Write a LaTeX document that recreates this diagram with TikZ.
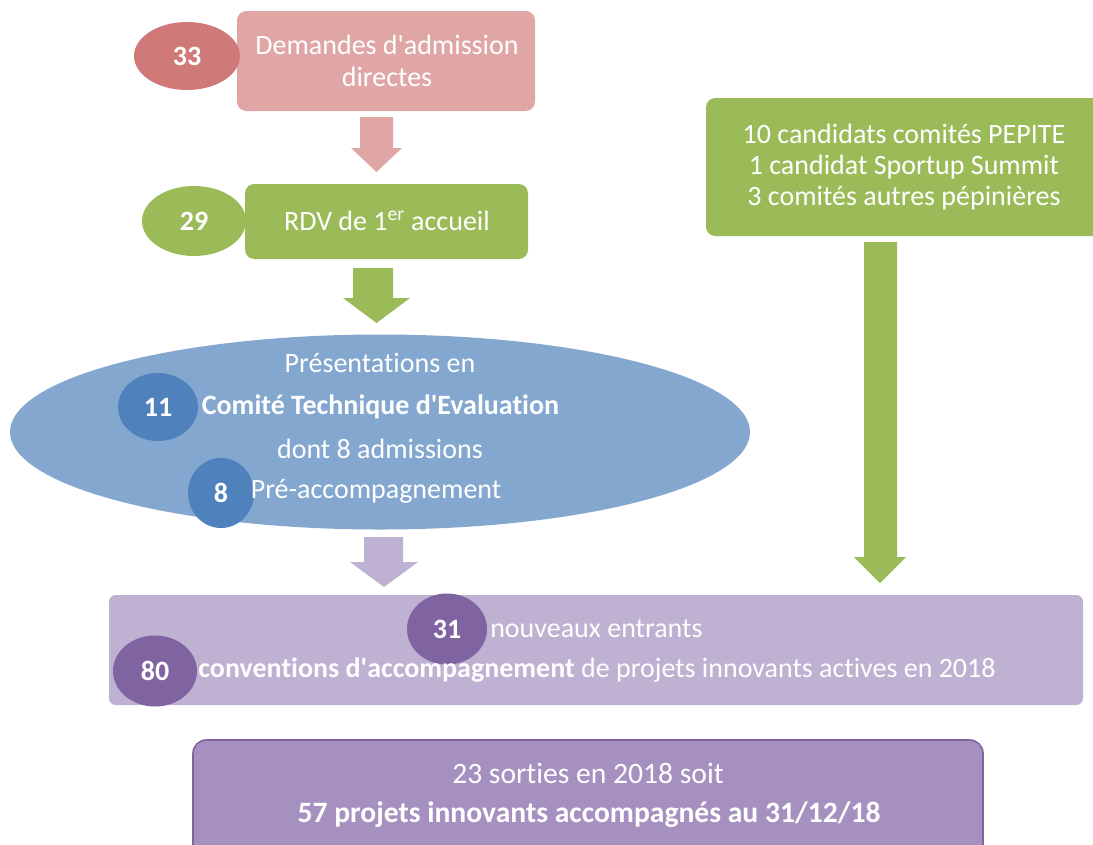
\documentclass[tikz,border=0pt]{standalone}
\usepackage{fontspec}
\setmainfont{Carlito}[RawFeature={-liga;-clig;-dlig}]
\usetikzlibrary{shapes.geometric,fit}
\definecolor{pinkL}{HTML}{E0A6A6}
\definecolor{pinkD}{HTML}{CF7A78}
\definecolor{greenM}{HTML}{9BBB59}
\definecolor{blueL}{HTML}{84A7CF}
\definecolor{blueD}{HTML}{4F81BD}
\definecolor{purpL}{HTML}{BFB1D1}
\definecolor{purpM}{HTML}{A590C0}
\definecolor{purpD}{HTML}{8064A2}
\begin{document}
\begin{tikzpicture}[x=0.75pt,y=-0.75pt,
  every node/.style={text=white, font=\fontsize{21}{23.6}\selectfont},
  rbox/.style={inner sep=0pt, rounded corners=7pt, align=center},
  oval/.style={ellipse, inner sep=0pt, font=\fontsize{21}{23.6}\selectfont\bfseries},
  bigtxt/.style={font=\fontsize{22.2}{25}\selectfont}
]
\useasboundingbox (0,0) rectangle (1093,844);
\clip (0,0) rectangle (1093,844);

% --- Demandes ---
\node[rbox, fill=pinkL, fit={(237,11) (535,111)}] (dem) {};
\node[align=center] (demt) at (387,61) {Demandes d\textquotesingle admission\\directes};
\node[oval, fill=pinkD, minimum width=106*0.75pt, minimum height=68*0.75pt] (n33) at (187,56) {33};
\fill[pinkL] (360,117) -- (393,117) -- (393,148) -- (402,148) -- (376.5,172) -- (351,148) -- (360,148) -- cycle;

% --- RDV ---
\node[rbox, fill=greenM, fit={(245,184) (528,259)}] (rdv) {};
\node (rdvt) at (387,221) {RDV de 1\textsuperscript{er} accueil};
\node[oval, fill=greenM, minimum width=104*0.75pt, minimum height=70*0.75pt] (n29) at (194,221) {29};
\fill[greenM] (353,268) -- (393,268) -- (393,298) -- (410,298) -- (376.5,323) -- (343,298) -- (353,298) -- cycle;

% --- Comite ---
\node[ellipse, fill=blueL, minimum width=740*0.75pt, minimum height=195*0.75pt] (cte) at (380,432) {};
\node (l1) at (380,363) {Présentations en};
\node[font=\fontsize{21}{23.6}\selectfont\bfseries] (l2) at (380.5,407) {Comité Technique d\textquotesingle Evaluation};
\node (l3) at (380,449) {dont 8 admissions};
\node[oval, fill=blueD, minimum width=80*0.75pt, minimum height=68*0.75pt] (n11) at (158,407) {11};
\node[oval, fill=blueD, minimum width=66*0.75pt, minimum height=70*0.75pt] (n8) at (221,493) {8};
\node (l4) at (376,491) {Pré-accompagnement};
\fill[purpL] (364,537) -- (403,537) -- (403,562) -- (418,562) -- (384,587) -- (350,562) -- (364,562) -- cycle;

% --- right green box ---
\node[rbox, fill=greenM, fit={(706,98) (1110,236)}] (ext) {};
\node[align=center] (extt) at (904,167) {10 candidats comités PEPITE\\1 candidat Sportup Summit\\3 comités autres pépinières};
\fill[greenM] (864,242) -- (897,242) -- (897,557) -- (906,557) -- (880,583) -- (854,557) -- (864,557) -- cycle;

% --- conventions ---
\node[rbox, rounded corners=5pt, fill=purpL, fit={(109,595) (1083,705)}] (conv) {};
\node[oval, fill=purpD, minimum width=80*0.75pt, minimum height=71*0.75pt] (n31) at (447,629) {31};
\node[anchor=west, inner sep=0pt] (c1) at (490,629) {nouveaux entrants};
\node[oval, fill=purpD, minimum width=84*0.75pt, minimum height=71*0.75pt] (n80) at (155,671) {80};
\node (c2) at (597,670) {\textbf{conventions d\textquotesingle accompagnement} de projets innovants actives en 2018};

% --- bottom ---
\node[rbox, rounded corners=10pt, fill=purpM, draw=purpD, line width=1.2pt, fit={(193,740) (983,870)}] (out) {};
\node[bigtxt] (o1) at (588,773) {23 sorties en 2018 soit};
\node[bigtxt, font=\fontsize{22.2}{25}\selectfont\bfseries] (o2) at (589,815) {57 projets innovants accompagnés au 31/12/18};
\end{tikzpicture}
\end{document}
